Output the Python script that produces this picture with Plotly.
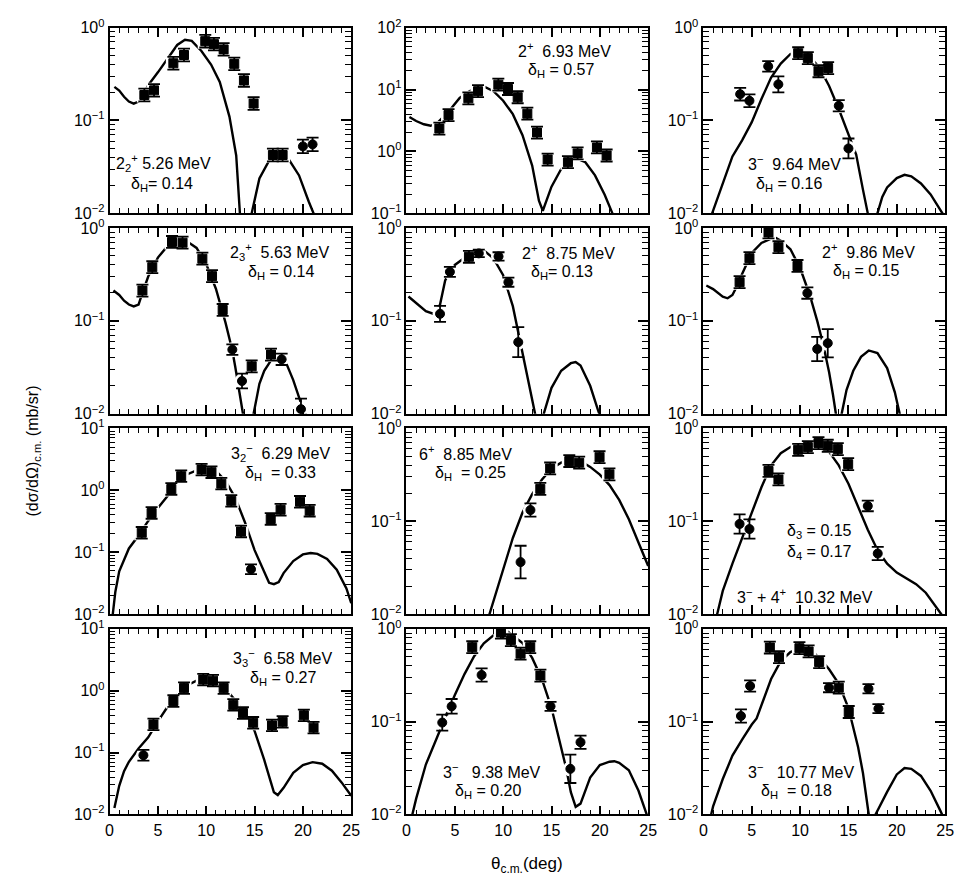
import plotly.graph_objects as go

# ---------------- data ----------------
# Panel 1: 2_2+ 5.26 MeV
p1_x = [3.6, 4.6, 6.6, 7.7, 9.9, 10.8, 11.8, 12.9, 13.9, 14.9, 16.9, 17.9, 20.0, 21.0]
p1_y = [0.188, 0.211, 0.413, 0.507, 0.715, 0.664, 0.583, 0.407, 0.270, 0.152, 0.0425, 0.0425, 0.0526, 0.0553]
p1_sym = ["s"] * 12 + ["o", "o"]
p1_err = [0.17] * 12 + [0.18, 0.18]
p1_cx = [0.5, 1.0, 1.5, 2.0, 2.5, 3.0, 3.5, 4.0, 5.0, 6.0, 7.0, 7.8, 8.5, 9.5, 10.5, 11.4, 12.4, 13.1, 13.6, 14.1, 14.7, 15.5, 16.5, 17.5, 18.5, 19.6, 20.6, 21.1, 21.5]
p1_cy = [0.23, 0.21, 0.18, 0.16, 0.152, 0.16, 0.19, 0.24, 0.33, 0.47, 0.65, 0.74, 0.72, 0.56, 0.40, 0.26, 0.11, 0.042, 0.01, 0.001, 0.01, 0.0237, 0.037, 0.041, 0.0386, 0.0256, 0.0134, 0.01, 0.004]

# Panel 2: 2+ 6.93 MeV
p2_x = [3.4, 4.35, 6.4, 7.4, 9.5, 10.5, 11.5, 12.5, 13.5, 14.6, 16.7, 17.7, 19.7, 20.7]
p2_y = [2.34, 3.87, 7.2, 9.4, 12.0, 10.2, 7.5, 4.07, 2.02, 0.74, 0.67, 0.93, 1.16, 0.86]
p2_sym = ["s"] * 14
p2_err = [0.25] * 14
p2_cx = [0.3, 1.0, 1.8, 2.5, 3.2, 4.3, 5.5, 6.5, 7.5, 8.0, 9.0, 10.0, 11.0, 12.0, 13.0, 13.7, 14.1, 14.5, 15.0, 16.0, 17.0, 17.7, 18.5, 19.5, 20.5, 21.3, 22.0]
p2_cy = [3.6, 3.1, 2.75, 2.6, 2.9, 4.3, 7.3, 9.4, 11.0, 11.2, 9.4, 6.6, 4.0, 1.83, 0.59, 0.16, 0.11, 0.17, 0.27, 0.52, 0.71, 0.76, 0.67, 0.41, 0.20, 0.10, 0.04]

# Panel 3: 3- 9.64 MeV
p3_x = [3.8, 4.76, 6.7, 7.75, 9.8, 10.8, 11.9, 12.9, 14.0, 15.0]
p3_y = [0.192, 0.163, 0.383, 0.245, 0.53, 0.47, 0.339, 0.367, 0.144, 0.05]
p3_sym = ["o", "o", "o", "o", "s", "s", "s", "s", "o", "o"]
p3_err = [0.17, 0.17, 0.14, 0.22, 0.16, 0.16, 0.16, 0.16, 0.15, 0.28]
p3_cx = [0.9, 2, 3, 4, 5, 6, 7, 8, 9, 10, 11, 12, 13, 14, 15, 15.8, 16.5, 17.0, 17.5, 18.0, 18.5, 19, 20, 20.8, 21.5, 22.5, 23.5, 24.5, 25]
p3_cy = [0.01, 0.0205, 0.041, 0.061, 0.096, 0.17, 0.29, 0.41, 0.52, 0.55, 0.49, 0.37, 0.235, 0.133, 0.069, 0.043, 0.018, 0.01, 0.002, 0.01, 0.015, 0.019, 0.024, 0.026, 0.025, 0.021, 0.016, 0.011, 0.009]

# Panel 4: 2_3+ 5.63 MeV
p4_x = [3.4, 4.42, 6.46, 7.55, 9.6, 10.6, 11.7, 12.7, 13.7, 14.7, 16.7, 17.8, 19.8]
p4_y = [0.212, 0.378, 0.707, 0.695, 0.467, 0.303, 0.131, 0.049, 0.0225, 0.0324, 0.0433, 0.0385, 0.0112]
p4_sym = ["s"] * 7 + ["o", "o", "s", "s", "o", "o"]
p4_err = [0.16] * 7 + [0.14, 0.2, 0.16, 0.16, 0.15, 0.3]
p4_cx = [0.4, 1.0, 1.5, 2.0, 2.5, 3.0, 3.4, 4.0, 5.0, 6.0, 7.0, 7.5, 8.0, 9.0, 10.0, 11.0, 12.0, 12.7, 13.0, 13.5, 13.8, 14.3, 14.9, 15.5, 16.0, 17.0, 17.4, 18.0, 19.0, 19.8, 20.3, 20.7]
p4_cy = [0.212, 0.19, 0.165, 0.15, 0.143, 0.15, 0.2, 0.30, 0.48, 0.64, 0.74, 0.75, 0.72, 0.61, 0.41, 0.222, 0.095, 0.048, 0.032, 0.0147, 0.01, 0.002, 0.01, 0.021, 0.029, 0.042, 0.044, 0.041, 0.023, 0.013, 0.01, 0.006]

# Panel 5: 2+ 8.75 MeV
p5_x = [3.47, 4.49, 6.46, 7.48, 9.52, 10.54, 11.56]
p5_y = [0.119, 0.337, 0.49, 0.533, 0.494, 0.261, 0.059]
p5_sym = ["o", "o", "s", "o", "o", "o", "o"]
p5_err = [0.22, 0.13, 0.16, 0.1, 0.11, 0.12, 0.45]
p5_cx = [0.2, 1.0, 2.0, 2.9, 3.47, 4.0, 4.5, 5.0, 6.0, 7.0, 7.5, 8.0, 9.0, 10.0, 11.0, 12.0, 12.5, 13.0, 13.3, 13.75, 14.2, 15.0, 16.0, 17.0, 17.5, 18.0, 19.0, 19.8, 20.1, 20.5]
p5_cy = [0.183, 0.157, 0.127, 0.118, 0.15, 0.272, 0.34, 0.4, 0.48, 0.57, 0.585, 0.575, 0.47, 0.31, 0.144, 0.046, 0.024, 0.0135, 0.01, 0.002, 0.01, 0.019, 0.029, 0.035, 0.036, 0.033, 0.020, 0.011, 0.009, 0.005]

# Panel 6: 2+ 9.86 MeV
p6_x = [3.74, 4.76, 6.73, 7.76, 9.73, 10.75, 11.77, 12.86]
p6_y = [0.261, 0.473, 0.895, 0.621, 0.39, 0.199, 0.0498, 0.0575]
p6_sym = ["s", "s", "s", "s", "s", "o", "o", "o"]
p6_err = [0.16, 0.16, 0.16, 0.16, 0.16, 0.15, 0.35, 0.42]
p6_cx = [0.3, 1.0, 2.0, 2.5, 3.0, 3.5, 4.0, 5.0, 6.0, 7.0, 7.5, 8.0, 9.0, 10.0, 11.0, 11.77, 12.4, 13.0, 13.4, 13.7, 14.0, 14.3, 14.8, 15.5, 16.3, 17.1, 18.0, 19.0, 19.8, 20.3, 20.7]
p6_cy = [0.24, 0.22, 0.182, 0.175, 0.19, 0.24, 0.32, 0.54, 0.69, 0.77, 0.78, 0.73, 0.59, 0.37, 0.19, 0.10, 0.055, 0.028, 0.016, 0.01, 0.002, 0.01, 0.018, 0.029, 0.041, 0.048, 0.045, 0.031, 0.017, 0.01, 0.005]

# Panel 7: 3_2- 6.29 MeV
p7_x = [3.33, 4.35, 6.39, 7.41, 9.52, 10.54, 11.56, 12.59, 13.6, 14.63, 16.67, 17.69, 19.7, 20.7]
p7_y = [0.206, 0.43, 1.05, 1.69, 2.16, 1.96, 1.28, 0.676, 0.216, 0.053, 0.344, 0.485, 0.652, 0.468]
p7_sym = ["s"] * 9 + ["o"] + ["s"] * 4
p7_err = [0.24] * 9 + [0.2] + [0.24] * 4
p7_cx = [0.3, 0.6, 1.0, 2.0, 3.0, 4.0, 5.0, 6.0, 7.0, 8.0, 9.0, 10.0, 11.0, 12.0, 13.0, 14.0, 15.0, 16.0, 16.5, 17.0, 17.5, 18.0, 19.0, 20.0, 20.8, 21.5, 22.5, 23.5, 24.5, 25.0]
p7_cy = [0.009, 0.023, 0.049, 0.115, 0.186, 0.32, 0.52, 0.81, 1.32, 1.8, 2.09, 2.22, 2.06, 1.41, 0.76, 0.305, 0.108, 0.046, 0.032, 0.0305, 0.033, 0.046, 0.072, 0.092, 0.097, 0.094, 0.078, 0.052, 0.026, 0.015]

# Panel 8: 6+ 8.85 MeV
p8_x = [11.8, 12.82, 13.84, 14.86, 16.84, 17.86, 19.97, 20.99]
p8_y = [0.0363, 0.132, 0.223, 0.37, 0.445, 0.427, 0.489, 0.32]
p8_sym = ["o", "o", "s", "s", "s", "s", "s", "s"]
p8_err = [0.5, 0.18, 0.16, 0.16, 0.16, 0.16, 0.16, 0.16]
p8_cx = [8.3, 9, 10, 11, 12, 13, 14, 15, 16, 17, 17.6, 18, 19, 20, 21, 22, 23, 24, 25]
p8_cy = [0.008, 0.0138, 0.0295, 0.066, 0.124, 0.196, 0.28, 0.37, 0.427, 0.457, 0.46, 0.445, 0.385, 0.318, 0.245, 0.17, 0.105, 0.06, 0.033]

# Panel 9: 3- + 4+ 10.32 MeV
p9_x = [3.74, 4.76, 6.73, 7.76, 9.8, 10.8, 11.9, 12.86, 13.9, 14.97, 17.0, 18.03]
p9_y = [0.0935, 0.0824, 0.348, 0.282, 0.588, 0.629, 0.695, 0.65, 0.598, 0.412, 0.146, 0.0449]
p9_sym = ["o", "o"] + ["s"] * 8 + ["o", "o"]
p9_err = [0.27, 0.27, 0.16, 0.16, 0.16, 0.16, 0.16, 0.16, 0.16, 0.16, 0.14, 0.18]
p9_cx = [1.2, 2, 3, 4, 5, 6, 7, 8, 9, 10, 11, 12, 13, 14, 15, 16, 17, 18, 19, 20, 21, 22, 23, 24, 24.6, 25]
p9_cy = [0.008, 0.0178, 0.035, 0.066, 0.124, 0.232, 0.40, 0.54, 0.63, 0.68, 0.695, 0.67, 0.56, 0.40, 0.253, 0.146, 0.081, 0.049, 0.035, 0.028, 0.024, 0.021, 0.017, 0.012, 0.01, 0.008]

# Panel 10: 3_3- 6.58 MeV
p10_x = [3.5, 4.54, 6.6, 7.7, 9.69, 10.7, 11.8, 12.8, 13.8, 14.85, 16.8, 17.9, 20.1, 21.1]
p10_y = [0.0907, 0.285, 0.68, 1.1, 1.51, 1.45, 1.1, 0.589, 0.435, 0.303, 0.275, 0.314, 0.40, 0.253]
p10_sym = ["o"] + ["s"] * 13
p10_err = [0.22] + [0.24] * 13
p10_cx = [0.5, 1.0, 1.5, 2.0, 3.0, 4.0, 5.0, 6.0, 7.0, 8.0, 9.0, 10.0, 11.0, 12.0, 13.0, 14.0, 15.0, 16.0, 16.7, 17.0, 17.4, 18.0, 19.0, 20.0, 21.0, 22.0, 23.0, 24.0, 25.0]
p10_cy = [0.0127, 0.029, 0.05, 0.071, 0.116, 0.176, 0.32, 0.55, 0.865, 1.21, 1.45, 1.55, 1.45, 1.07, 0.70, 0.435, 0.224, 0.076, 0.0326, 0.0228, 0.0206, 0.027, 0.047, 0.063, 0.07, 0.066, 0.051, 0.033, 0.02]

# Panel 11: 3- 9.38 MeV
p11_x = [3.7, 4.67, 6.8, 7.77, 9.77, 10.8, 11.8, 12.8, 13.85, 14.9, 16.95, 18.0]
p11_y = [0.0977, 0.146, 0.633, 0.318, 0.909, 0.755, 0.539, 0.633, 0.313, 0.146, 0.031, 0.06]
p11_sym = ["o", "o", "s", "o", "s", "s", "s", "s", "s", "o", "o", "o"]
p11_err = [0.22, 0.2, 0.16, 0.18, 0.16, 0.16, 0.16, 0.16, 0.16, 0.12, 0.42, 0.18]
p11_cx = [0.5, 1, 2, 3, 4, 5, 6, 7, 8, 9, 10, 10.5, 11, 12, 13, 14, 15, 16, 16.5, 17, 17.5, 18, 19, 20, 21, 21.5, 22, 23, 24, 25]
p11_cy = [0.009, 0.0148, 0.0345, 0.063, 0.11, 0.193, 0.325, 0.506, 0.697, 0.851, 0.923, 0.93, 0.85, 0.70, 0.485, 0.288, 0.14, 0.053, 0.032, 0.0174, 0.0121, 0.0131, 0.025, 0.034, 0.037, 0.0375, 0.036, 0.03, 0.018, 0.009]

# Panel 12: 3- 10.77 MeV
p12_x = [3.88, 4.83, 6.87, 7.82, 9.93, 10.88, 11.97, 12.99, 14.0, 15.03, 17.07, 18.1]
p12_y = [0.115, 0.242, 0.628, 0.494, 0.618, 0.57, 0.438, 0.232, 0.232, 0.127, 0.226, 0.138]
p12_sym = ["o", "o", "s", "s", "s", "s", "s", "o", "s", "s", "o", "o"]
p12_err = [0.18, 0.15, 0.16, 0.16, 0.16, 0.16, 0.16, 0.12, 0.16, 0.16, 0.12, 0.12]
p12_cx = [0.8, 1.0, 2.0, 3.0, 4.0, 5.0, 5.5, 6.0, 7.0, 8.0, 9.0, 10.0, 10.5, 11.0, 12.0, 13.0, 14.0, 15.0, 16.0, 16.5, 17.1, 17.45, 17.8, 19.0, 20.0, 20.8, 21.5, 22.5, 23.5, 24.5, 25.0]
p12_cy = [0.01, 0.0122, 0.0241, 0.043, 0.064, 0.093, 0.108, 0.151, 0.288, 0.449, 0.561, 0.618, 0.62, 0.60, 0.485, 0.366, 0.256, 0.14, 0.053, 0.028, 0.01, 0.003, 0.01, 0.0175, 0.027, 0.0316, 0.031, 0.026, 0.018, 0.011, 0.0085]

# decade ranges (log10) of each panel's y axis
y_ranges = [(-2, 0), (-1, 2), (-2, 0), (-2, 0), (-2, 0), (-2, 0),
            (-2, 1), (-2, 0), (-2, 0), (-2, 1), (-2, 0), (-2, 0)]

x_ticks = [0, 5, 10, 15, 20, 25]

panel_labels = [
    ["2<sub>2</sub><sup>+</sup> 5.26 MeV", "δ<sub>H</sub>= 0.14"],
    ["2<sup>+</sup>  6.93 MeV", "δ<sub>H</sub> = 0.57"],
    ["3<sup>−</sup>  9.64 MeV", "δ<sub>H</sub> = 0.16"],
    ["2<sub>3</sub><sup>+</sup>  5.63 MeV", "δ<sub>H</sub> = 0.14"],
    ["2<sup>+</sup>  8.75 MeV", "δ<sub>H</sub>= 0.13"],
    ["2<sup>+</sup>  9.86 MeV", "δ<sub>H</sub> = 0.15"],
    ["3<sub>2</sub><sup>−</sup>  6.29 MeV", "δ<sub>H</sub>  = 0.33"],
    ["6<sup>+</sup>  8.85 MeV", "δ<sub>H</sub>  = 0.25"],
    ["δ<sub>3</sub> = 0.15", "δ<sub>4</sub> = 0.17", "3<sup>−</sup> + 4<sup>+</sup>  10.32 MeV"],
    ["3<sub>3</sub><sup>−</sup>  6.58 MeV", "δ<sub>H</sub> = 0.27"],
    ["3<sup>−</sup>   9.38 MeV", "δ<sub>H</sub> = 0.20"],
    ["3<sup>−</sup>   10.77 MeV", "δ<sub>H</sub>  = 0.18"],
]

panels = [
    (p1_x, p1_y, p1_sym, p1_err, p1_cx, p1_cy),
    (p2_x, p2_y, p2_sym, p2_err, p2_cx, p2_cy),
    (p3_x, p3_y, p3_sym, p3_err, p3_cx, p3_cy),
    (p4_x, p4_y, p4_sym, p4_err, p4_cx, p4_cy),
    (p5_x, p5_y, p5_sym, p5_err, p5_cx, p5_cy),
    (p6_x, p6_y, p6_sym, p6_err, p6_cx, p6_cy),
    (p7_x, p7_y, p7_sym, p7_err, p7_cx, p7_cy),
    (p8_x, p8_y, p8_sym, p8_err, p8_cx, p8_cy),
    (p9_x, p9_y, p9_sym, p9_err, p9_cx, p9_cy),
    (p10_x, p10_y, p10_sym, p10_err, p10_cx, p10_cy),
    (p11_x, p11_y, p11_sym, p11_err, p11_cx, p11_cy),
    (p12_x, p12_y, p12_sym, p12_err, p12_cx, p12_cy),
]

# ---------------- layout geometry (pixels) ----------------
FW, FH = 963, 888
COL_LEFT = [107, 408, 709]
COL_W = 245
ROW_TOP = [17, 222, 427, 632]
ROW_H = 190
FONT = "Liberation Sans"

# label anchor positions (left edge x, vertical centre y) in pixels
label_pos = [
    [(112, 156), (127, 177)],
    [(519, 40), (529, 61)],
    [(752, 156), (760, 177)],
    [(227, 247), (245, 268)],
    [(523, 247), (532, 268)],
    [(827, 246), (838, 267)],
    [(228, 452), (242, 473)],
    [(419, 452), (435, 473)],
    [(792, 532), (792, 554), (741, 598)],
    [(230, 662), (247, 683)],
    [(443, 777), (455, 798)],
    [(752, 777), (765, 798)],
]


def px(xp):
    return xp / FW


def py(yp):
    return 1 - yp / FH


sym_map = {"s": "square", "o": "circle"}

fig = go.Figure()
layout = dict(
    width=FW, height=FH, margin=dict(l=0, r=0, t=0, b=0),
    paper_bgcolor="white", plot_bgcolor="white", showlegend=False,
    font=dict(family=FONT, size=15, color="black"),
)

for i, (x, y, sym, err, cx, cy) in enumerate(panels):
    r, c = divmod(i, 3)
    n = i + 1
    xs = "x" if n == 1 else f"x{n}"
    ys = "y" if n == 1 else f"y{n}"
    symbols = [sym_map[s] for s in sym]
    sizes = [9 if s == "s" else 9 for s in sym]
    up = [v * e for v, e in zip(y, err)]
    dn = [v - v / (1 + e) for v, e in zip(y, err)]
    fig.add_trace(go.Scatter(x=cx, y=cy, mode="lines", xaxis=xs, yaxis=ys,
                             line=dict(color="black", width=2.4), hoverinfo="skip"))
    fig.add_trace(go.Scatter(x=x, y=y, mode="markers", xaxis=xs, yaxis=ys,
                             marker=dict(color="white", size=15, symbol=symbols,
                                         opacity=1, line=dict(width=0)),
                             hoverinfo="skip"))
    fig.add_trace(go.Scatter(x=x, y=y, mode="markers", xaxis=xs, yaxis=ys,
                             opacity=1,
                             marker=dict(color="black", size=sizes, symbol=symbols,
                                         opacity=1,
                                         line=dict(width=1, color="black")),
                             error_y=dict(type="data", symmetric=False, array=up,
                                          arrayminus=dn, color="black",
                                          thickness=1.8, width=6)))
    lo, hi = y_ranges[i]
    x0 = COL_LEFT[c]
    y0 = ROW_TOP[r]
    xkey = "xaxis" if n == 1 else f"xaxis{n}"
    ykey = "yaxis" if n == 1 else f"yaxis{n}"
    layout[xkey] = dict(
        domain=[px(x0), px(x0 + COL_W)], anchor=ys, range=[0, 25],
        showline=True, linecolor="black", linewidth=1.8, mirror="ticks",
        ticks="inside", ticklen=9, tickwidth=1.5, tickcolor="black",
        tickvals=x_ticks, ticktext=[str(t) for t in x_ticks],
        showticklabels=(r == 3), tickfont=dict(size=16, family=FONT),
        minor=dict(dtick=1, tick0=0, ticks="inside", ticklen=5, tickwidth=1.3,
                   tickcolor="black", showgrid=False),
        showgrid=False, zeroline=False, fixedrange=True,
    )
    decs = list(range(lo, hi + 1))
    minors = [m * 10 ** d for d in range(lo, hi) for m in range(2, 10)]
    layout[ykey] = dict(
        domain=[py(y0 + ROW_H), py(y0)], anchor=xs, type="log", range=[lo, hi],
        showline=True, linecolor="black", linewidth=1.8, mirror="ticks",
        ticks="inside", ticklen=10, tickwidth=1.5, tickcolor="black",
        tickvals=[10 ** d for d in decs],
        ticktext=[f"10<sup>{d}</sup>".replace("-", "\u2212") for d in decs],
        tickfont=dict(size=16, family=FONT),
        minor=dict(tickvals=minors, ticks="inside", ticklen=6, tickwidth=1.2,
                   tickcolor="black", showgrid=False),
        showgrid=False, zeroline=False, fixedrange=True,
    )

fig.update_layout(**layout)

# ---------------- text labels ----------------
for texts, poss in zip(panel_labels, label_pos):
    for t, (xp, yp) in zip(texts, poss):
        fig.add_annotation(x=px(xp), y=py(yp), xref="paper", yref="paper", text=t,
                           showarrow=False, xanchor="left", yanchor="middle",
                           font=dict(size=16, family=FONT, color="black"))

fig.add_annotation(x=px(30), y=py(450), xref="paper", yref="paper",
                   text="(dσ/dΩ)<sub>c.m.</sub> (mb/sr)", textangle=-90,
                   xanchor="center", yanchor="middle",
                   showarrow=False, font=dict(size=16, family=FONT, color="black"))
fig.add_annotation(x=px(530), y=py(874), xref="paper", yref="paper",
                   text="θ<sub>c.m.</sub>(deg)", showarrow=False,
                   xanchor="center", yanchor="middle",
                   font=dict(size=17, family=FONT, color="black"))

fig.write_html("out.html")
